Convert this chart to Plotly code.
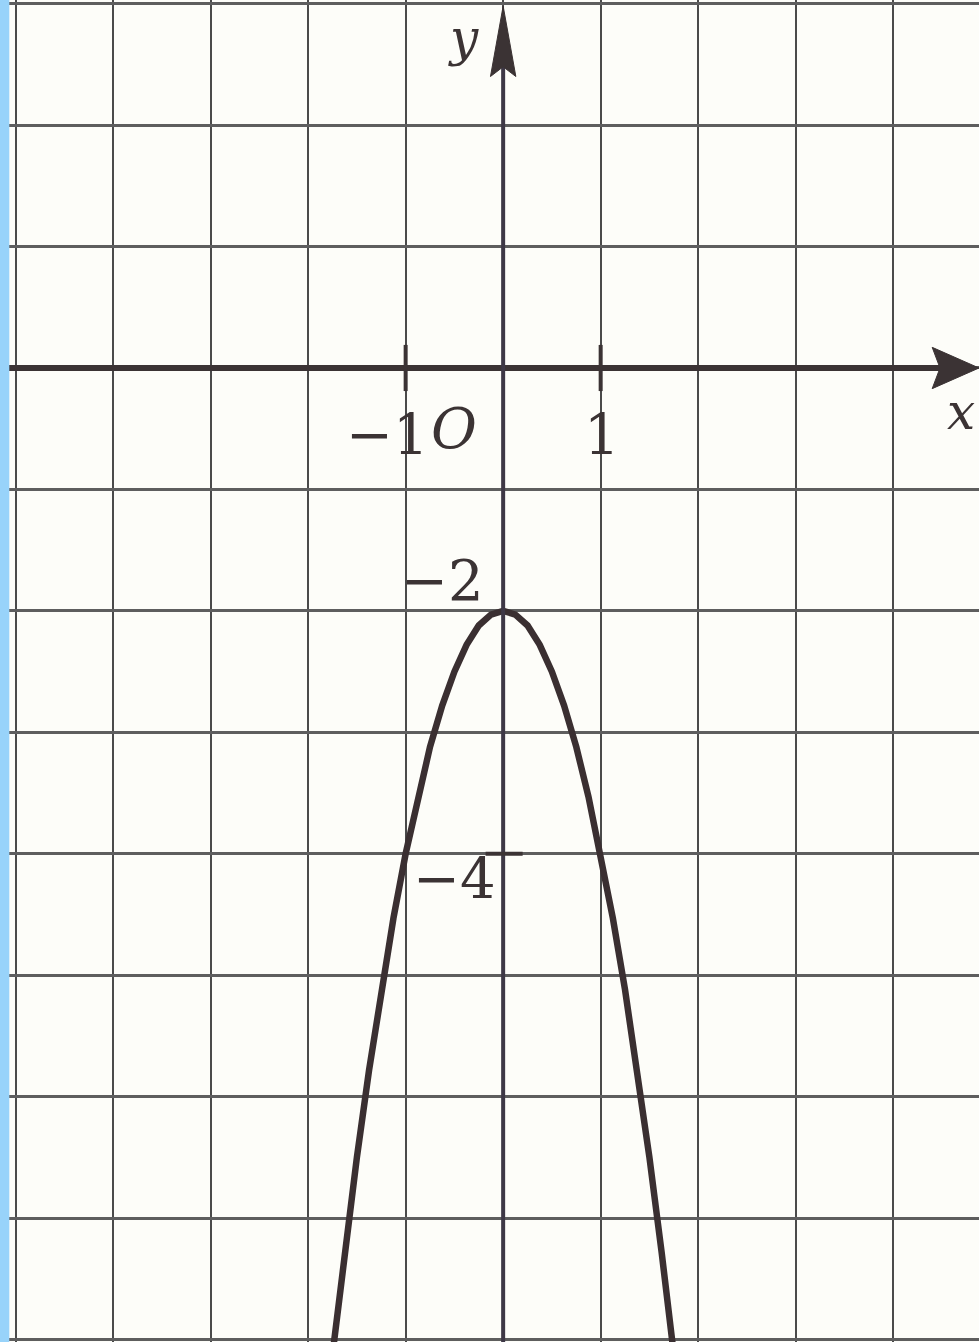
import plotly.graph_objects as go

curve_x = [-1.75, -1.625, -1.5, -1.375, -1.25, -1.125, -1.0, -0.875, -0.75, -0.625,
           -0.5, -0.375, -0.25, -0.125, 0.0, 0.125, 0.25, 0.375, 0.5, 0.625,
           0.75, 0.875, 1.0, 1.125, 1.25, 1.375, 1.5, 1.625, 1.75]
curve_y = [-8.12, -7.28, -6.5, -5.78, -5.12, -4.53, -4.0, -3.53, -3.12, -2.78,
           -2.5, -2.28, -2.12, -2.03, -2.0, -2.03, -2.12, -2.28, -2.5, -2.78,
           -3.12, -3.53, -4.0, -4.53, -5.12, -5.78, -6.5, -7.28, -8.12]

# tick labels written next to the axes
x_marks = [-1, 1]
x_mark_text = ['\u22121', '1']
y_marks = [-2, -4]
y_mark_text = ['\u22122', '\u22124']

ink = '#3b3334'
serif = 'DejaVu Serif, Liberation Serif, serif'

x_range = [-5.16, 4.88]
y_range = [-8.02, 3.03]

fig = go.Figure()

# the parabola
fig.add_scatter(
    x = curve_x,
    y = curve_y,
    mode = 'lines',
    line = dict(color = '#3a2f31', width = 6.5),
    hoverinfo = 'skip',
    showlegend = False
)

shapes = []

# axes
shapes.append(dict(type = 'line', xref = 'x', yref = 'y', x0 = x_range[0], x1 = 4.5, y0 = 0, y1 = 0,
                   line = dict(color = ink, width = 6)))
shapes.append(dict(type = 'line', xref = 'x', yref = 'y', x0 = 0, x1 = 0, y0 = y_range[0], y1 = 2.6,
                   line = dict(color = '#3e3846', width = 4)))

# arrow heads
shapes.append(dict(type = 'path', xref = 'x', yref = 'y',
                   path = 'M 4.88 0 L 4.40 0.17 L 4.48 0 L 4.40 -0.17 Z',
                   fillcolor = ink, line = dict(color = ink, width = 1)))
shapes.append(dict(type = 'path', xref = 'x', yref = 'y',
                   path = 'M 0 2.98 L -0.13 2.40 L 0 2.48 L 0.13 2.40 Z',
                   fillcolor = ink, line = dict(color = ink, width = 1)))

# small tick marks
for v in x_marks:
    shapes.append(dict(type = 'line', xref = 'x', yref = 'y', x0 = v, x1 = v, y0 = -0.19, y1 = 0.19,
                       line = dict(color = ink, width = 4)))
for v in y_marks[1:]:
    shapes.append(dict(type = 'line', xref = 'x', yref = 'y', x0 = -0.18, x1 = 0.2, y0 = v, y1 = v,
                       line = dict(color = ink, width = 4)))

# blue strip at the left edge
shapes.append(dict(type = 'rect', xref = 'paper', yref = 'paper', x0 = 0, x1 = 0.0095, y0 = 0, y1 = 1,
                   fillcolor = '#98d3fa', line = dict(width = 0), layer = 'above'))

annotations = []

def label(x, y, text, size, italic = False, xanchor = 'center'):
    annotations.append(dict(
        x = x, y = y, xref = 'x', yref = 'y', text = '<i>{}</i>'.format(text) if italic else text,
        showarrow = False, xanchor = xanchor, yanchor = 'middle',
        font = dict(family = serif, size = size, color = ink)
    ))

label(-0.74, -0.55, x_mark_text[0], 56, xanchor = 'right')
label(-0.5, -0.5, 'O', 56, italic = True)
label(1.01, -0.55, x_mark_text[1], 56)
label(-0.62, -1.75, y_mark_text[0], 56)
label(-0.5, -4.2, y_mark_text[1], 56)
label(-0.41, 2.72, 'y', 50, italic = True)
label(4.7, -0.36, 'x', 50, italic = True)

fig.update_layout(
    width = 979,
    height = 1342,
    margin = dict(t = 0, r = 0, l = 0, b = 0),
    paper_bgcolor = '#fdfdf9',
    plot_bgcolor = '#fdfdf9',
    shapes = shapes,
    annotations = annotations,
    showlegend = False
)

fig.update_xaxes(
    range = x_range, dtick = 1, tick0 = 0,
    showgrid = True, gridcolor = '#4a4a4a', gridwidth = 1.5,
    zeroline = False, showticklabels = False, ticks = '', fixedrange = True
)
fig.update_yaxes(
    range = y_range, dtick = 1, tick0 = 0,
    showgrid = True, gridcolor = '#5e5e5e', gridwidth = 2.5,
    zeroline = False, showticklabels = False, ticks = '', fixedrange = True
)

fig.write_html('out.html', config = {'displayModeBar': False},
               post_script = "document.body.style.margin = '0';")
